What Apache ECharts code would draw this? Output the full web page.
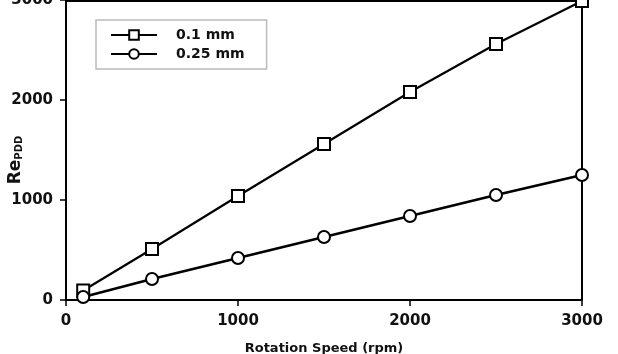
<!DOCTYPE html>
<html lang="en">
<head>
    <meta charset="UTF-8">
    <title>Echarts</title>
    <script type="text/javascript" src="https://cdn.jsdelivr.net/npm/echarts@6/dist/echarts.min.js"></script>
    <style>
        html, body { margin: 0; padding: 0; background: #fff; }
    </style>
</head>
<body>
<div id="main" style="width: 618px; height: 354px;"></div>

<script type="text/javascript">
    // rotation speed (rpm)
    var speeds = [100, 500, 1000, 1500, 2000, 2500, 3000];
    // Re_PDD for each gap
    var re01 = [95, 510, 1040, 1560, 2080, 2560, 2990];
    var re025 = [30, 210, 420, 630, 840, 1050, 1250];
    var seriesNames = ['0.1 mm', '0.25 mm'];

    var font = 'DejaVu Sans';
    var myChart = echarts.init(document.getElementById('main'));

    function pairs(xs, ys) {
        var out = [];
        for (var i = 0; i < xs.length; i++) {
            out.push([xs[i], ys[i]]);
        }
        return out;
    }

    var plain = function (v) { return String(v); };

    myChart.setOption({
        backgroundColor: '#fff',
        animation: false,
        grid: { left: 66, right: 36, top: 0, bottom: 54, containLabel: false, outerBoundsMode: 'none' },
        legend: {
            left: 96,
            top: 20,
            orient: 'vertical',
            data: seriesNames,
            itemWidth: 46,
            itemHeight: 12,
            itemGap: 5,
            padding: [8, 22, 8, 14],
            borderColor: '#bbb',
            borderWidth: 1.5,
            textStyle: { fontFamily: font, fontWeight: 'bold', fontSize: 14, color: '#111', padding: [0, 0, 0, 14] }
        },
        xAxis: {
            type: 'value',
            min: 0,
            max: 3000,
            interval: 1000,
            name: 'Rotation Speed (rpm)',
            nameLocation: 'middle',
            nameGap: 42,
            nameMoveOverlap: false,
            nameTextStyle: { fontFamily: font, fontWeight: 'bold', fontSize: 13, color: '#111' },
            axisLine: { lineStyle: { color: '#000', width: 2 } },
            axisTick: { show: true, inside: false, length: 6, lineStyle: { color: '#000', width: 1.5 } },
            axisLabel: { fontFamily: font, fontWeight: 'bold', fontSize: 15, color: '#111', margin: 14, formatter: plain },
            splitLine: { show: false }
        },
        yAxis: {
            type: 'value',
            min: 0,
            max: 3000,
            interval: 1000,
            name: '{a|Re}{b|PDD}',
            nameLocation: 'middle',
            nameRotate: 90,
            nameGap: 42,
            nameMoveOverlap: false,
            nameTextStyle: {
                padding: [0, 0, 0, -20],
                rich: {
                    a: { fontFamily: font, fontWeight: 'bold', fontSize: 17, color: '#111' },
                    b: { fontFamily: font, fontWeight: 'bold', fontSize: 10, color: '#111', verticalAlign: 'bottom', padding: [7, 0, 0, 0] }
                }
            },
            axisLine: { show: true, lineStyle: { color: '#000', width: 2 } },
            axisTick: { show: true, inside: false, length: 6, lineStyle: { color: '#000', width: 1.5 } },
            axisLabel: { fontFamily: font, fontWeight: 'bold', fontSize: 15, color: '#111', margin: 13, formatter: plain },
            splitLine: { show: false }
        },
        series: [
            {
                name: seriesNames[0],
                type: 'line',
                data: pairs(speeds, re01),
                symbol: 'rect',
                symbolSize: 12,
                lineStyle: { color: '#000', width: 2.2 },
                itemStyle: { color: '#fff', borderColor: '#000', borderWidth: 2 },
                z: 3
            },
            {
                name: seriesNames[1],
                type: 'line',
                data: pairs(speeds, re025),
                symbol: 'circle',
                symbolSize: 12,
                lineStyle: { color: '#000', width: 2.7 },
                itemStyle: { color: '#fff', borderColor: '#000', borderWidth: 2 },
                z: 3
            }
        ]
    });

    // box the plot: draw the top and right edges from the grid rect
    var grid = myChart.getModel().getComponent('grid').coordinateSystem.getRect();
    myChart.setOption({
        graphic: [{
            type: 'polyline',
            shape: { points: [[grid.x, grid.y + 1], [grid.x + grid.width, grid.y + 1], [grid.x + grid.width, grid.y + grid.height]] },
            style: { stroke: '#000', lineWidth: 2, fill: null },
            z: 1
        }]
    });
</script>
</body>
</html>
